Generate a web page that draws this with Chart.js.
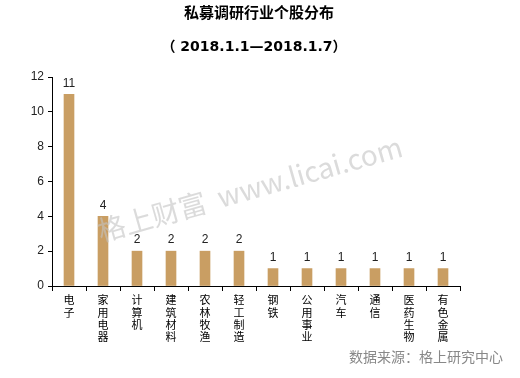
<!DOCTYPE html>
<html><head><meta charset="utf-8">
<script src="https://cdn.jsdelivr.net/npm/chart.js@4"></script>
<style>html,body{margin:0;padding:0;background:#fff}#w{width:520px;height:378px}</style>
</head><body><div id="w"><canvas id="c" width="520" height="378"></canvas></div>
<script>
const categories = ['电子','家用电器','计算机','建筑材料','农林牧渔','轻工制造','钢铁','公用事业','汽车','通信','医药生物','有色金属'];
const values = [11,4,2,2,2,2,1,1,1,1,1,1];
const yTicks = [0,2,4,6,8,10,12];
const titleText = '私募调研行业个股分布';
const subtitleText = '（ 2018.1.1—2018.1.7）';
const sourceText = '数据来源：格上研究中心';
const watermarkText = '格上财富  www.licai.com';

const FONT = '"Noto Sans CJK SC", "DejaVu Sans", sans-serif';

const extras = {
  id: 'extras',
  afterDatasetsDraw(chart) {
    const ctx = chart.ctx;
    const x = chart.scales.x, y = chart.scales.y;
    ctx.save();
    ctx.fillStyle = '#222';
    ctx.font = '12px "Liberation Sans", Arial, sans-serif';
    ctx.textAlign = 'center';
    ctx.textBaseline = 'bottom';
    values.forEach((v, i) => {
      ctx.fillText(String(v), x.getPixelForValue(i), y.getPixelForValue(v) - 5);
    });
    ctx.translate(101, 242);
    ctx.rotate(-15.8 * Math.PI / 180);
    ctx.fillStyle = 'rgba(195,195,195,0.6)';
    ctx.font = '28px ' + FONT;
    ctx.textAlign = 'left';
    ctx.textBaseline = 'alphabetic';
    ctx.fillText(watermarkText, 0, 0);
    ctx.restore();
    ctx.save();
    ctx.fillStyle = '#000';
    ctx.textAlign = 'center';
    ctx.textBaseline = 'middle';
    ctx.font = 'bold 15px ' + FONT;
    ctx.fillText(titleText, 259, 12);
    ctx.font = 'bold 14px "DejaVu Sans", ' + FONT;
    ctx.fillText(subtitleText, 254, 47);
    ctx.fillStyle = '#888';
    ctx.font = '14px ' + FONT;
    ctx.textAlign = 'right';
    ctx.fillText(sourceText, 503, 357);
    ctx.restore();
  }
};

new Chart(document.getElementById('c'), {
  type: 'bar',
  data: {
    labels: categories.map(s => s.split('')),
    datasets: [{ data: values, backgroundColor: '#C99E63', barThickness: 10 }]
  },
  options: {
    responsive: false,
    animation: false,
    layout: { padding: { left: 0, right: 60, top: 77, bottom: 0 } },
    plugins: { legend: { display: false }, tooltip: { enabled: false } },
    scales: {
      x: {
        grid: { display: true, drawOnChartArea: false, offset: true, color: '#000', tickLength: 5 },
        border: { color: '#000' },
        ticks: {
          maxRotation: 0, minRotation: 0, autoSkip: false,
          color: '#000', padding: 3,
          font: { size: 11, family: FONT, lineHeight: 1.12 }
        },
        afterFit(s) { s.height = 92; }
      },
      y: {
        min: 0, max: 12,
        afterBuildTicks(s) { s.ticks = yTicks.map(v => ({ value: v })); },
        grid: { display: true, drawOnChartArea: false, color: '#000', tickLength: 4 },
        border: { color: '#000' },
        ticks: { color: '#222', padding: 4, font: { size: 12, family: '"Liberation Sans", Arial, sans-serif' } },
        afterFit(s) { s.width = 52; }
      }
    }
  },
  plugins: [extras]
});
</script>
</body></html>
